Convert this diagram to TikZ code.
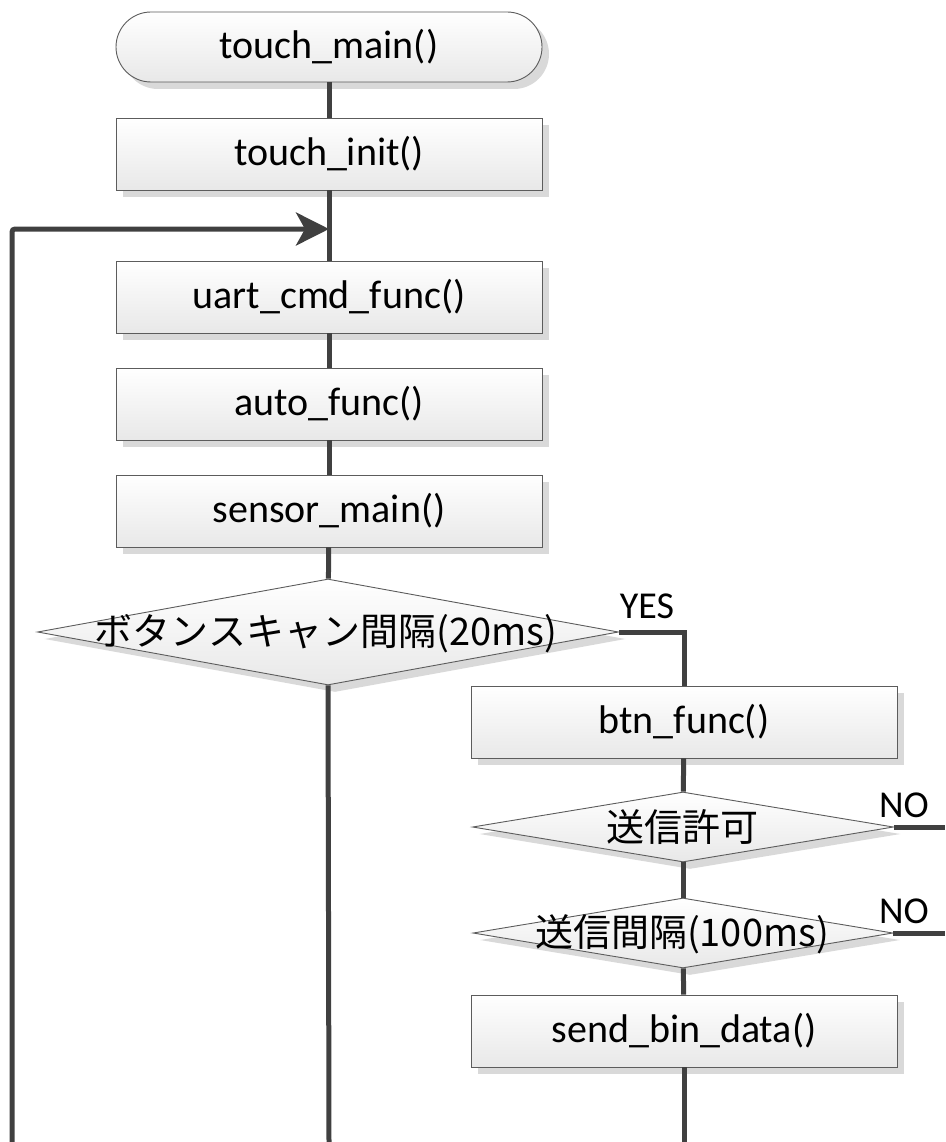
\documentclass[tikz,border=0pt]{standalone}
\usepackage{fontspec}
\setmainfont{Carlito}
\newfontfamily\jp{Noto Sans CJK JP}
\usetikzlibrary{shapes.geometric,shadows,arrows.meta}
\definecolor{conncol}{HTML}{404040}
\definecolor{bordcol}{HTML}{5C5C5C}
\tikzset{
  sh/.style={drop shadow={shadow xshift=7pt, shadow yshift=-7pt, fill=black!15, opacity=1}},
  procbox/.style={draw=bordcol, line width=0.9pt, top color=white, bottom color=black!9,
    minimum width=426pt, minimum height=72pt, inner sep=0pt, sh,
    font=\fontsize{40}{48}\selectfont},
  termbox/.style={procbox, rounded corners=35pt, minimum height=70pt},
  decision/.style={draw=bordcol, line width=0.9pt, shape=diamond, top color=white,
    bottom color=black!9, inner sep=0pt, sh},
  dtext/.style={font=\jp\fontsize{38}{44}\selectfont, inner sep=0pt},
  conn/.style={draw=conncol, line width=5pt},
  lbl/.style={font=\fontsize{38}{44}\selectfont, anchor=base, inner sep=0pt},
}
\begin{document}
\begin{tikzpicture}[x=1pt, y=-1pt]
\useasboundingbox (0,0) rectangle (945,1142);
% nodes
\node[termbox] (main) at (329,47) {touch\_main()};
\node[procbox] (init) at (329,154) {touch\_init()};
\node[procbox] (uart) at (329,297) {uart\_cmd\_func()};
\node[procbox] (auto) at (329,404) {auto\_func()};
\node[procbox] (sens) at (329,511) {sensor\_main()};
\node[decision, minimum width=581pt, minimum height=106pt] (d1) at (328,632) {};
\node[procbox] (btn) at (684,722) {btn\_func()};
\node[decision, minimum width=421pt, minimum height=70pt] (d2) at (683,827) {};
\node[decision, minimum width=420pt, minimum height=70pt] (d3) at (683,933) {};
\node[procbox] (send) at (684,1031) {send\_bin\_data()};
% diamond texts
\node[dtext] (d1t) at (326,634) {ボタンスキャン間隔(20ms)};
\node[dtext] (d2t) at (682,827) {送信許可};
\node[dtext] (d3t) at (682,934) {送信間隔(100ms)};
% free ends
\coordinate (merge) at (329,229);
\coordinate (loopt) at (12,229);
\coordinate (loopb) at (12,1142);
\coordinate (mainend) at (329,1142);
\coordinate (sendend) at (684,1142);
\coordinate (yescorner) at (684,632);
\coordinate (no1) at (945,827);
\coordinate (no2) at (945,933);
% connectors
\draw[conn] (main) -- (init);
\draw[conn] (init) -- (uart);
\draw[conn] (uart) -- (auto);
\draw[conn] (auto) -- (sens);
\draw[conn] (sens) -- (d1);
\draw[conn] (d1.south) -- (mainend);
\draw[conn] (d1.east) -- (yescorner) -- (btn.north);
\draw[conn] (btn) -- (d2);
\draw[conn] (d2) -- (d3);
\draw[conn] (d3) -- (send);
\draw[conn] (send) -- (sendend);
\draw[conn] (d2.east) -- (no1);
\draw[conn] (d3.east) -- (no2);
\draw[conn, rounded corners=3pt, -{Stealth[length=33pt, width=33pt, inset=9pt]}]
  (loopb) -- (loopt) -- (merge);
% labels
\node[lbl] (yes) at (647,618) {YES};
\node[lbl] (no1l) at (904,817) {NO};
\node[lbl] (no2l) at (904,923) {NO};
\end{tikzpicture}
\end{document}
